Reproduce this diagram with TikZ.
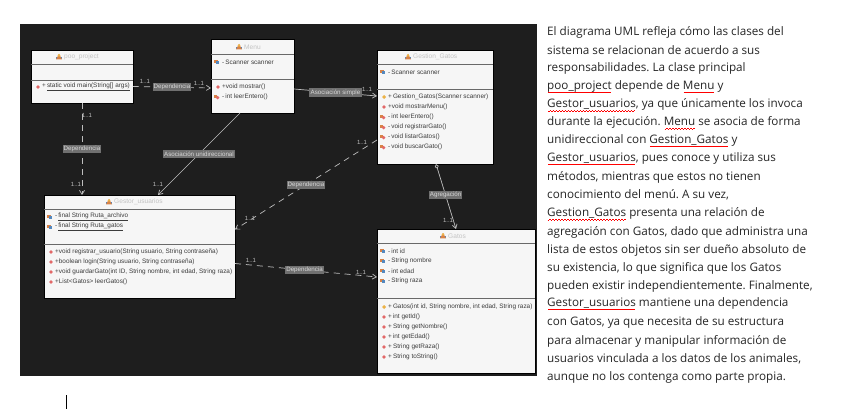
\documentclass[tikz,border=0pt]{standalone}
\usepackage{fontspec}
\setmainfont{Open Sans}
\newfontfamily\umlfont{Liberation Sans}
\usetikzlibrary{arrows.meta, calc}
\definecolor{canvascol}{RGB}{30,30,30}
\definecolor{boxcol}{RGB}{246,246,246}
\definecolor{rulecol}{RGB}{105,105,105}
\definecolor{membercol}{RGB}{60,60,60}
\definecolor{titlecol}{RGB}{195,195,195}
\definecolor{linkcol}{RGB}{190,190,190}
\definecolor{lblfill}{RGB}{112,112,112}
\definecolor{lbltext}{RGB}{215,215,215}
\definecolor{methcol}{RGB}{226,104,104}
\definecolor{ctorcol}{RGB}{236,178,70}
\definecolor{fieldcol}{RGB}{84,136,190}
\definecolor{fieldcol2}{RGB}{216,130,70}
\definecolor{bodycol}{RGB}{38,38,38}
\newsavebox{\spellbox}
\newcommand{\spell}[1]{\sbox{\spellbox}{#1}\rlap{\raisebox{-3.2pt}{\hbox to \wd\spellbox{\color{red}\cleaders\hbox{\rule{1.5pt}{.55pt}\rule[.9pt]{1.5pt}{.55pt}}\hfill}}}\usebox{\spellbox}}
\tikzset{
  classbox/.style={draw=black, fill=boxcol, line width=0.8pt, anchor=north west, inner sep=0pt, outer sep=0pt},
  sepline/.style={rulecol, line width=0.8pt},
  classtitle/.style={font=\umlfont\fontsize{6.6}{8}\selectfont, text=titlecol, inner sep=0pt},
  member/.style={font=\umlfont\fontsize{6.4}{8}\selectfont, text=membercol, anchor=west, inner sep=0pt},
  linklbl/.style={font=\umlfont\fontsize{6.2}{8}\selectfont, fill=lblfill, text=lbltext, inner sep=1.2pt},
  multlbl/.style={font=\umlfont\fontsize{6}{8}\selectfont, text=linkcol, inner sep=0pt},
  deplink/.style={linkcol, line width=0.7pt, dash pattern=on 6pt off 5pt, -{Straight Barb[length=4pt,width=5pt]}},
  asclink/.style={linkcol, line width=0.7pt, -{Straight Barb[length=4pt,width=5pt]}},
  agglink/.style={linkcol, line width=0.7pt, {Diamond[open,length=5pt,width=4pt]}-{Straight Barb[length=4pt,width=5pt]}},
  bodyline/.style={font=\frenchspacing\fontsize{11.7}{14}\selectfont, text=bodycol, anchor=west, inner sep=0pt},
  methicon/.pic={\fill[methcol] (0,0) circle (1.9);},
  ctoricon/.pic={\fill[ctorcol] (-2,0) -- (0,-2) -- (2,0) -- (0,2) -- cycle;},
  fieldicon/.pic={\fill[fieldcol2] (-2.6,-2) rectangle (0.6,1);
                  \fill[fieldcol] (-0.8,-1) rectangle (2.4,2);},
  hidicon/.pic={\fill[fieldcol2] (-2.6,-2) rectangle (0.4,0.6);
                \fill[methcol] (0.6,0.6) circle (1.8);},
  classicon/.pic={\fill[fieldcol] (-3,2.4) rectangle (3,-0.2);
                  \fill[fieldcol2] (-3,2.4) -- (0,-3) -- (3,2.4) -- cycle;
                  \fill[ctorcol] (0,-1.6) circle (1.4);}
}

\begin{document}
\begin{tikzpicture}[x=1pt,y=-1pt]
\useasboundingbox (0,0) rectangle (848,409);
\fill[white] (0,0) rectangle (848,409);

% ── Canvas ────────────────────────────────────────────────────────────────────
\fill[canvascol] (20,24) rectangle (537,376);

% ── Class boxes ───────────────────────────────────────────────────────────────
\node[classbox, minimum width=102pt, minimum height=53pt]  (pooproject) at (31,50)  {};
\node[classbox, minimum width=83pt,  minimum height=74pt]  (menu)       at (211,39) {};
\node[classbox, minimum width=116pt, minimum height=114pt] (gestiongatos) at (377,50) {};
\node[classbox, minimum width=191pt, minimum height=103pt] (gestorusuarios) at (44,195) {};
\node[classbox, minimum width=158pt, minimum height=144pt] (gatos)      at (377,229) {};

\foreach \xa/\xb/\ya/\yb in {31/133/64/80, 211/294/54/79, 377/493/64/89, 44/235/209/244, 377/535/243/298} {
  \draw[sepline] (\xa,\ya) -- (\xb,\ya);
  \draw[sepline] (\xa,\yb) -- (\xb,\yb);
}

% ── Titles ────────────────────────────────────────────────────────────────────
\foreach \nm/\xpos/\ypos/\lbl in {
    tpoo/64/57/poo\_project,
    tmenu/244/47/Menu,
    tgestion/413/57/Gestion\_Gatos,
    tgestor/114/202/Gestor\_usuarios,
    tgatos/448/236/Gatos}
{
  \node[classtitle, anchor=west] (\nm) at (\xpos,\ypos) {\lbl};
  \pic at (\xpos-5,\ypos) {classicon};
}

% ── Members: poo_project and Menu ─────────────────────────────────────────────
\pic at (38,87) {methicon};
\node[member] (pooA) at (42,87) {+\,\underline{static void main(String[] args)}};
\pic at (217,62) {fieldicon};
\node[member] (menuA) at (222,62) {-\,Scanner scanner};
\pic at (218,87) {methicon};
\node[member] (menuB) at (222,87) {+void mostrar()};
\pic at (217,97) {hidicon};
\node[member] (menuC) at (222,97) {-\,int leerEntero()};

% ── Members: Gestion_Gatos ────────────────────────────────────────────────────
\pic at (383,72) {fieldicon};
\node[member] (gesA) at (388,72) {-\,Scanner scanner};
\pic at (384,97) {ctoricon};
\node[member] (gesB) at (388,97) {+\,Gestion\_Gatos(Scanner scanner)};
\pic at (384,107) {methicon};
\node[member] (gesC) at (388,107) {+void mostrarMenu()};
\foreach \i/\ypos/\lbl in {D/117/int leerEntero(), E/127/void registrarGato(), F/137/void listarGatos(), G/147/void buscarGato()} {
  \pic at (383,\ypos) {hidicon};
  \node[member] (ges\i) at (388,\ypos) {-\,\lbl};
}

% ── Members: Gestor_usuarios ──────────────────────────────────────────────────
\pic at (50,217) {fieldicon};
\node[member] (gusA) at (55,217) {-\,\underline{final String Ruta\_archivo}};
\pic at (50,227) {fieldicon};
\node[member] (gusB) at (55,227) {-\,\underline{final String Ruta\_gatos}};
\foreach \i/\ypos/\lbl in {
    C/252/{void registrar\_usuario(String usuario, String contraseña)},
    D/262/{boolean login(String usuario, String contraseña)},
    E/272/{void guardarGato(int ID, String nombre, int edad, String raza)},
    F/282/{List<Gatos> leerGatos()}}
{
  \pic at (51,\ypos) {methicon};
  \node[member] (gus\i) at (55,\ypos) {+\lbl};
}

% ── Members: Gatos ────────────────────────────────────────────────────────────
\foreach \i/\ypos/\lbl in {A/251/int id, B/261/String nombre, C/271/int edad, D/281/String raza} {
  \pic at (383,\ypos) {fieldicon};
  \node[member] (gat\i) at (388,\ypos) {-\,\lbl};
}
\pic at (384,307) {ctoricon};
\node[member] (gatE) at (388,307) {+\,Gatos(int id, String nombre, int edad, String raza)};
\foreach \i/\ypos/\lbl in {F/317/int getId(), G/327/String getNombre(), H/337/int getEdad(), I/347/String getRaza(), J/357/String toString()} {
  \pic at (384,\ypos) {methicon};
  \node[member] (gat\i) at (388,\ypos) {+\,\lbl};
}

% ── Connectors ────────────────────────────────────────────────────────────────
\draw[deplink] ([yshift=-10pt]pooproject.east) -- ([yshift=-12pt]menu.west)
      node[linklbl, pos=0.5] (lblpoomenu) {Dependencia};
\draw[deplink] (pooproject.south) -- ([xshift=-57.5pt]gestorusuarios.north)
      node[linklbl, pos=0.5] (lblpoogestor) {Dependencia};
\draw[asclink] ([xshift=-12.5pt]menu.south) -- ([xshift=18.5pt]gestorusuarios.north)
      node[linklbl, pos=0.5] (lblmenugestor) {Asociación unidireccional};
\draw[asclink] ([yshift=-13pt]menu.east) -- ([yshift=11pt]gestiongatos.west)
      node[linklbl, pos=0.5] (lblmenugestion) {Asociación simple};
\draw[deplink] ([yshift=-33pt]gestiongatos.west) -- ([yshift=17pt]gestorusuarios.east)
      node[linklbl, pos=0.5] (lblgestiongestor) {Dependencia};
\draw[deplink] ([yshift=-17pt]gestorusuarios.east) -- ([yshift=24pt]gatos.west)
      node[linklbl, pos=0.49] (lblgestorgatos) {Dependencia};
\draw[agglink] ([xshift=1pt]gestiongatos.south) -- (gatos.north)
      node[linklbl, pos=0.48] (lblagg) {Agregación};

\foreach \nm/\xpos/\ypos in {
    ma/145/81, mb/199/83, mc/87/115, md/76/184, me/158/184, mf/367/89,
    mg/362/142, mh/250/218, mi/251/260, mj/361/272, mk/448/220}
{
  \node[multlbl] (\nm) at (\xpos,\ypos) {1..1};
}

% ── Text column ───────────────────────────────────────────────────────────────
\foreach \i/\ypos/\lbl in {
    1/32/{El diagrama UML refleja cómo las clases del},
    2/50/{sistema se relacionan de acuerdo a sus},
    3/68/{responsabilidades. La clase principal},
    4/87/{\spell{poo\_project} depende de \spell{Menu} y},
    5/105/{\spell{Gestor\_usuarios}, ya que únicamente los invoca},
    6/123/{durante la ejecución. \spell{Menu} se asocia de forma},
    7/141/{unidireccional con \spell{Gestion\_Gatos} y},
    8/159/{\spell{Gestor\_usuarios}, pues conoce y utiliza sus},
    9/177/{métodos, mientras que estos no tienen},
    10/195/{conocimiento del menú. A su vez,},
    11/214/{\spell{Gestion\_Gatos} presenta una relación de},
    12/232/{agregación con Gatos, dado que administra una},
    13/250/{lista de estos objetos sin ser dueño absoluto de},
    14/268/{su existencia, lo que significa que los Gatos},
    15/286/{pueden existir independientemente. Finalmente,},
    16/304/{\spell{Gestor\_usuarios} mantiene una dependencia},
    17/322/{con Gatos, ya que necesita de su estructura},
    18/341/{para almacenar y manipular información de},
    19/359/{usuarios vinculada a los datos de los animales,},
    20/377/{aunque no los contenga como parte propia.}}
{
  \node[bodyline] (line\i) at (547,\ypos) {\lbl};
}

% text cursor
\draw[black, line width=0.8pt] (66.5,395) -- (66.5,409);

\end{tikzpicture}
\end{document}
